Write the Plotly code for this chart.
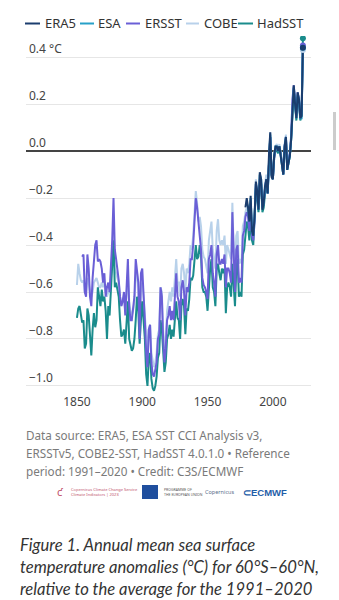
import plotly.graph_objects as go

# ---------------- data ----------------
years_had = list(range(1850, 2024))
hadsst = [
    -0.71, -0.67, -0.66, -0.70, -0.73, -0.72, -0.84, -0.82, -0.67, -0.70,
    -0.80, -0.87, -0.76, -0.69, -0.75, -0.72, -0.58, -0.62, -0.66, -0.59,
    -0.64, -0.62, -0.68, -0.80, -0.66, -0.70, -0.60, -0.45, -0.38, -0.58,
    -0.56, -0.59, -0.62, -0.72, -0.79, -0.78, -0.76, -0.82, -0.74, -0.64,
    -0.80, -0.82, -0.85, -0.84, -0.80, -0.72, -0.62, -0.68, -0.82, -0.72,
    -0.64, -0.72, -0.80, -0.95, -1.00, -0.88, -0.86, -0.97, -1.01, -1.02,
    -1.00, -0.96, -0.88, -0.86, -0.72, -0.76, -0.88, -0.94, -0.90, -0.80,
    -0.78, -0.74, -0.80, -0.76, -0.79, -0.73, -0.64, -0.71, -0.72, -0.80,
    -0.66, -0.63, -0.66, -0.78, -0.67, -0.68, -0.63, -0.54, -0.55, -0.53,
    -0.46, -0.40, -0.46, -0.45, -0.40, -0.44, -0.58, -0.60, -0.60, -0.62,
    -0.68, -0.56, -0.50, -0.46, -0.58, -0.60, -0.66, -0.50, -0.48, -0.52,
    -0.55, -0.50, -0.52, -0.50, -0.69, -0.58, -0.56, -0.58, -0.62, -0.48,
    -0.56, -0.66, -0.50, -0.46, -0.62, -0.60, -0.62, -0.44, -0.42, -0.36,
    -0.30, -0.32, -0.38, -0.26, -0.38, -0.40, -0.30, -0.16, -0.20, -0.26,
    -0.14, -0.14, -0.26, -0.24, -0.18, -0.14, -0.18, -0.04, 0.06, -0.10,
    -0.12, -0.03, 0.00, 0.01, -0.01, 0.02, -0.01, -0.06, -0.10, 0.01,
    0.05, -0.08, -0.05, -0.02, 0.05, 0.19, 0.26, 0.20, 0.13, 0.23,
    0.21, 0.13, 0.15, 0.48,
]

years_cobe = list(range(1850, 2024))
cobe = [
    -0.57, -0.48, -0.52, -0.55, -0.56, -0.55, -0.60, -0.60, -0.54, -0.56,
    -0.60, -0.62, -0.60, -0.56, -0.55, -0.54, -0.56, -0.58, -0.58, -0.56,
    -0.58, -0.56, -0.60, -0.62, -0.60, -0.60, -0.55, -0.45, -0.30, -0.50,
    -0.52, -0.54, -0.56, -0.62, -0.66, -0.64, -0.62, -0.68, -0.62, -0.52,
    -0.64, -0.68, -0.70, -0.68, -0.64, -0.54, -0.52, -0.58, -0.74, -0.60,
    -0.56, -0.62, -0.70, -0.82, -0.86, -0.76, -0.74, -0.86, -0.90, -0.92,
    -0.90, -0.86, -0.78, -0.76, -0.58, -0.60, -0.76, -0.84, -0.80, -0.68,
    -0.64, -0.60, -0.64, -0.58, -0.62, -0.54, -0.46, -0.56, -0.56, -0.62,
    -0.50, -0.48, -0.52, -0.60, -0.50, -0.52, -0.48, -0.40, -0.42, -0.36,
    -0.26, -0.17, -0.22, -0.30, -0.28, -0.32, -0.42, -0.45, -0.46, -0.50,
    -0.52, -0.38, -0.34, -0.30, -0.42, -0.46, -0.50, -0.34, -0.29, -0.38,
    -0.40, -0.38, -0.40, -0.36, -0.48, -0.40, -0.42, -0.44, -0.46, -0.22,
    -0.42, -0.50, -0.36, -0.34, -0.48, -0.46, -0.48, -0.32, -0.30, -0.26,
    -0.24, -0.26, -0.32, -0.20, -0.34, -0.36, -0.28, -0.12, -0.16, -0.22,
    -0.10, -0.12, -0.22, -0.20, -0.14, -0.10, -0.16, -0.02, 0.08, -0.08,
    -0.10, -0.01, 0.02, 0.03, 0.01, 0.03, 0.00, -0.04, -0.08, 0.03,
    0.07, -0.06, -0.03, 0.00, 0.07, 0.21, 0.27, 0.21, 0.15, 0.25,
    0.22, 0.14, 0.16, 0.43,
]

years_ersst = list(range(1854, 2024))
ersst = [
    -0.45, -0.44, -0.60, -0.62, -0.44, -0.50,
    -0.62, -0.66, -0.54, -0.46, -0.40, -0.38, -0.47, -0.46, -0.47, -0.50,
    -0.56, -0.52, -0.62, -0.58, -0.56, -0.60, -0.50, -0.38, -0.20, -0.42,
    -0.46, -0.50, -0.55, -0.62, -0.66, -0.64, -0.60, -0.70, -0.60, -0.46,
    -0.66, -0.72, -0.72, -0.66, -0.62, -0.46, -0.52, -0.56, -0.80, -0.52,
    -0.50, -0.60, -0.72, -0.86, -0.92, -0.76, -0.74, -0.90, -0.95, -0.96,
    -0.93, -0.90, -0.80, -0.78, -0.58, -0.62, -0.80, -0.90, -0.84, -0.72,
    -0.70, -0.66, -0.72, -0.68, -0.72, -0.62, -0.52, -0.62, -0.64, -0.72,
    -0.58, -0.55, -0.60, -0.70, -0.58, -0.60, -0.56, -0.46, -0.46, -0.40,
    -0.30, -0.20, -0.24, -0.32, -0.36, -0.42, -0.54, -0.57, -0.58, -0.60,
    -0.63, -0.46, -0.44, -0.40, -0.52, -0.56, -0.62, -0.44, -0.40, -0.48,
    -0.48, -0.46, -0.48, -0.44, -0.58, -0.50, -0.50, -0.52, -0.56, -0.26,
    -0.48, -0.60, -0.42, -0.40, -0.56, -0.54, -0.56, -0.36, -0.34, -0.28,
    -0.26, -0.28, -0.34, -0.22, -0.36, -0.38, -0.30, -0.14, -0.18, -0.24,
    -0.12, -0.14, -0.24, -0.22, -0.16, -0.12, -0.18, -0.03, 0.06, -0.10,
    -0.12, -0.03, 0.01, 0.02, 0.00, 0.02, -0.01, -0.05, -0.10, 0.02,
    0.06, -0.07, -0.04, -0.01, 0.06, 0.22, 0.28, 0.21, 0.15, 0.25,
    0.22, 0.14, 0.16, 0.45,
]

years_esa = list(range(1980, 2024))
esa = [
    -0.22, -0.24, -0.30, -0.20, -0.34, -0.36, -0.28, -0.14, -0.18, -0.25,
    -0.10, -0.12, -0.24, -0.22, -0.16, -0.12, -0.18, -0.02, 0.07, -0.10,
    -0.12, -0.02, 0.02, 0.02, 0.00, 0.02, -0.02, -0.06, -0.10, 0.02,
    0.06, -0.08, -0.05, -0.02, 0.05, 0.20, 0.27, 0.20, 0.14, 0.24,
    0.22, 0.14, 0.14, 0.44,
]

years_era5 = list(range(1979, 2024))
era5 = [
    -0.24,
    -0.20, -0.24, -0.30, -0.19, -0.34, -0.36, -0.28, -0.13, -0.17, -0.25,
    -0.09, -0.12, -0.25, -0.22, -0.15, -0.12, -0.18, -0.02, 0.08, -0.11,
    -0.12, -0.02, 0.02, 0.02, 0.00, 0.02, -0.02, -0.06, -0.10, 0.02,
    0.06, -0.08, -0.05, -0.02, 0.05, 0.21, 0.28, 0.20, 0.14, 0.25,
    0.22, 0.14, 0.15, 0.44,
]

series_names = ["ERA5", "ESA", "ERSST", "COBE", "HadSST"]
series_colors = {
    "ERA5": "#1b3d6e",
    "ESA": "#27a0c8",
    "ERSST": "#6a5fd6",
    "COBE": "#b8d1ea",
    "HadSST": "#1a8c8c",
}

y_tickvals = [-1.0, -0.8, -0.6, -0.4, -0.2, 0.0, 0.2, 0.4]
y_ticktext = ["\u22121.0", "\u22120.8", "\u22120.6", "\u22120.4", "\u22120.2", "0.0", "0.2", "0.4 \u00b0C"]
x_tickvals = [1850, 1900, 1950, 2000]

source_lines = [
    "Data source: ERA5, ESA SST CCI Analysis v3,",
    "ERSSTv5, COBE2-SST, HadSST 4.0.1.0 \u2022 Reference",
    "period: 1991\u20132020 \u2022 Credit: C3S/ECMWF",
]
caption_lines = [
    "Figure 1. Annual mean sea surface",
    "temperature anomalies (\u00b0C) for 60\u00b0S\u201360\u00b0N,",
    "relative to the average for the 1991\u20132020",
]

# ---------------- layout geometry ----------------
W, H = 339, 600
L, R, T, B = 26, 28, 36, 207
PW, PH = W - L - R, H - T - B


def px(x):
    return (x - L) / PW


def py(y):
    return (H - B - y) / PH


FONT = "Noto Sans"

fig = go.Figure()

draw = [
    ("COBE", years_cobe, cobe),
    ("HadSST", years_had, hadsst),
    ("ERSST", years_ersst, ersst),
    ("ESA", years_esa, esa),
    ("ERA5", years_era5, era5),
]
for name, xs, ys in draw:
    fig.add_trace(go.Scatter(
        x=xs, y=ys, mode="lines", name=name,
        line=dict(color=series_colors[name], width=2),
        showlegend=False,
    ))

# end-point markers (last year of each series)
for name, xs, ys in draw:
    fig.add_trace(go.Scatter(
        x=[xs[-1]], y=[ys[-1]], mode="markers",
        marker=dict(color=series_colors[name], size=6),
        showlegend=False,
    ))

annotations = []
shapes = []

# manual legend
legend_x = [(25, 40, 43), (80, 94, 96), (126, 140, 143), (186, 199, 202), (238, 253, 255)]
for name, (x0, x1, xt) in zip(series_names, legend_x):
    shapes.append(dict(type="line", xref="paper", yref="paper",
                       x0=px(x0), x1=px(x1), y0=py(23.5), y1=py(23.5),
                       line=dict(color=series_colors[name], width=2)))
    annotations.append(dict(text=name, xref="paper", yref="paper",
                            x=px(xt), y=py(23.5), xanchor="left", yanchor="middle",
                            showarrow=False,
                            font=dict(family=FONT, size=13, color="#333333")))

# source text
for i, line in enumerate(source_lines):
    annotations.append(dict(text=line, xref="paper", yref="paper",
                            x=px(26), y=py(435 + i * 18), xanchor="left", yanchor="middle",
                            showarrow=False, xshift=-2,
                            font=dict(family=FONT, size=11.7, color="#7a7a7a")))

# logos (approximate, as text/shapes)
annotations.append(dict(text="\u0188", xref="paper", yref="paper", x=px(60), y=py(492),
                        xanchor="center", yanchor="middle", showarrow=False,
                        font=dict(family=FONT, size=11, color="#c0506a")))
annotations.append(dict(text="Copernicus Climate Change Service<br>Climate Indicators | 2023",
                        xref="paper", yref="paper", x=px(69), y=py(492),
                        xanchor="left", yanchor="middle", showarrow=False, align="left",
                        font=dict(family=FONT, size=4, color="#c0506a")))
shapes.append(dict(type="rect", xref="paper", yref="paper",
                   x0=px(142), x1=px(158), y0=py(499), y1=py(485),
                   fillcolor="#1f4f9e", line=dict(width=0)))
annotations.append(dict(text="PROGRAMME OF<br>THE EUROPEAN UNION",
                        xref="paper", yref="paper", x=px(162), y=py(492),
                        xanchor="left", yanchor="middle", showarrow=False, align="left",
                        font=dict(family=FONT, size=3.5, color="#555555")))
annotations.append(dict(text="Copernicus", xref="paper", yref="paper", x=px(203), y=py(492.5),
                        xanchor="left", yanchor="middle", showarrow=False,
                        font=dict(family=FONT, size=5.5, color="#5a6f8c")))
annotations.append(dict(text="<b>\u2282ECMWF</b>", xref="paper", yref="paper", x=px(241), y=py(493),
                        xanchor="left", yanchor="middle", showarrow=False,
                        font=dict(family="Liberation Sans", size=9.5, color="#1f5ea8")))

# caption
for i, line in enumerate(caption_lines):
    annotations.append(dict(text="<i>" + line + "</i>", xref="paper", yref="paper",
                            x=px(18), y=py(545 + i * 22), xanchor="left", yanchor="middle",
                            showarrow=False,
                            font=dict(family="Lato", size=16.6, color="#333333")))

# scrollbar artifact
shapes.append(dict(type="rect", xref="paper", yref="paper",
                   x0=px(333), x1=px(336), y0=py(150), y1=py(112),
                   fillcolor="#cccccc", line=dict(width=0)))

fig.update_layout(
    width=W, height=H,
    margin=dict(l=L, r=R, t=T, b=B),
    paper_bgcolor="white", plot_bgcolor="white",
    showlegend=False,
    xaxis=dict(range=[1811, 2029.2], tickvals=x_tickvals, showgrid=False,
               zeroline=False, showline=False, ticks="",
               tickfont=dict(family=FONT, size=12, color="#444444")),
    yaxis=dict(range=[-1.03, 0.49], tickvals=y_tickvals, ticktext=y_ticktext,
               showgrid=True, gridcolor="#e6e6e6", gridwidth=1,
               zeroline=True, zerolinecolor="#444444", zerolinewidth=1.5,
               showline=False, ticks="", ticklabelposition="inside top",
               tickfont=dict(family=FONT, size=12, color="#444444")),
    annotations=annotations,
    shapes=shapes,
)

fig.write_html("out.html")
